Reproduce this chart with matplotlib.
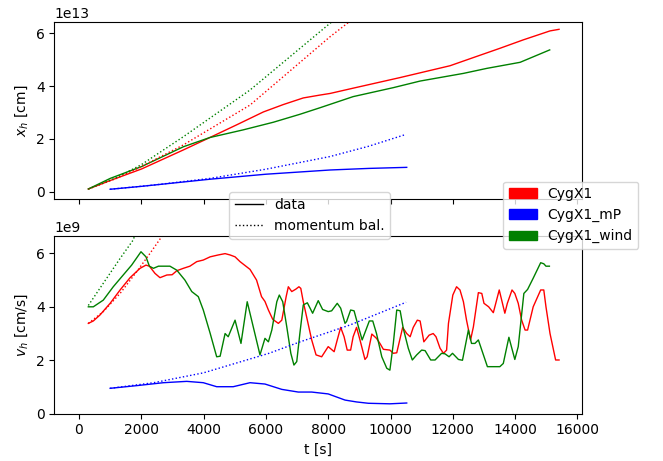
import numpy as np
import matplotlib
matplotlib.use("Agg")
import matplotlib.pyplot as plt
from matplotlib.lines import Line2D
from matplotlib.patches import Patch

# ---------------- data (x in 1e13 cm, v in 1e9 cm/s, t in s) ----------------
series = ["CygX1", "CygX1_mP", "CygX1_wind"]
colors = ["red", "blue", "green"]

# top panel: position x_h
t_x_red = [300, 1000, 2010, 3350, 4200, 5060, 5920, 6560, 7200, 7740, 8060, 8800,
           10300, 11910, 12660, 13510, 14260, 15120, 15410]
x_red = [0.10, 0.42, 0.86, 1.58, 2.05, 2.53, 3.02, 3.30, 3.55, 3.66, 3.72, 3.92,
         4.32, 4.77, 5.08, 5.43, 5.75, 6.09, 6.15]
t_x_green = [300, 1000, 2010, 3350, 4200, 5270, 6240, 7090, 7740, 8800, 10090,
             10950, 12340, 13090, 14160, 15110]
x_green = [0.10, 0.50, 0.95, 1.70, 2.05, 2.34, 2.63, 2.93, 3.18, 3.60, 3.94,
           4.19, 4.48, 4.67, 4.90, 5.37]
t_x_blue = [1000, 2000, 4200, 6000, 8060, 9300, 10520]
x_blue = [0.09, 0.20, 0.47, 0.66, 0.82, 0.88, 0.92]

t_xm_red = [300, 1200, 2000, 3350, 5490, 8060, 8800]
xm_red = [0.10, 0.50, 0.95, 1.77, 3.28, 5.87, 6.55]
t_xm_green = [300, 1200, 2000, 3350, 5490, 8060, 8300]
xm_green = [0.10, 0.53, 1.02, 2.08, 3.85, 6.38, 6.60]
t_xm_blue = [1000, 2400, 4200, 6000, 8060, 9300, 10500]
xm_blue = [0.09, 0.25, 0.50, 0.85, 1.33, 1.72, 2.17]

# bottom panel: velocity v_h
t_v_red = [300, 460, 670, 1000, 1320, 1640, 1960, 2150, 2260, 2440, 2600, 2820, 2990,
           3140, 3350, 3560, 3780, 3990, 4210, 4470, 4690, 4850, 5010, 5170, 5490,
           5700, 5860, 5970, 6080, 6220, 6400, 6510, 6650, 6720, 6830, 6960, 7060,
           7120, 7200, 7330, 7470, 7610, 7790, 8000, 8190, 8290, 8400, 8510, 8610,
           8720, 8800, 8910, 9020, 9180, 9250, 9400, 9550, 9660, 9770, 9980, 10090,
           10200, 10390, 10520, 10630, 10730, 10860, 10950, 11070, 11240, 11370,
           11460, 11590, 11700, 11800, 11860, 12000, 12120, 12230, 12340, 12440,
           12570, 12660, 12820, 12930, 13000, 13150, 13300, 13490, 13670, 13750,
           13900, 13990, 14100, 14210, 14320, 14400, 14580, 14820, 14920, 14990,
           15120, 15300, 15410]
v_red = [3.38, 3.47, 3.69, 4.13, 4.63, 5.09, 5.44, 5.56, 5.52, 5.25, 5.09, 5.19, 5.20,
         5.35, 5.44, 5.52, 5.69, 5.75, 5.87, 5.94, 5.99, 5.94, 5.87, 5.69, 5.40,
         5.00, 4.38, 4.20, 3.88, 3.53, 3.38, 3.50, 4.38, 4.75, 4.57, 4.66, 4.75,
         4.69, 4.19, 3.50, 2.76, 2.20, 2.13, 2.51, 2.32, 2.76, 3.23, 2.88, 2.38,
         2.38, 2.88, 3.23, 2.76, 2.03, 2.13, 2.98, 2.82, 2.63, 2.41, 2.38, 2.26,
         2.28, 3.23, 3.00, 2.88, 3.23, 3.50, 3.47, 2.69, 2.94, 3.00,
         2.88, 2.45, 2.26, 2.38, 3.38, 4.44, 4.75, 4.63, 4.19, 3.50,
         2.76, 3.25, 4.53, 4.50, 4.13, 4.00, 3.78, 4.63, 3.76, 4.13,
         4.63, 4.50, 4.13, 3.50, 3.13, 3.13, 4.00, 4.63, 4.63, 4.00,
         3.00, 2.01, 2.01]

t_v_green = [300, 460, 780, 1100, 1420, 1690, 1990, 2150, 2260, 2390, 2550, 2920, 3140,
             3400, 3620, 3830, 3990, 4210, 4420, 4530, 4690, 4790, 5010, 5200, 5400,
             5810, 5970, 6080, 6190, 6350, 6430, 6540, 6670, 6800, 6900, 6990, 7090,
             7200, 7330, 7500, 7680, 7820, 8000, 8110, 8290, 8400, 8540, 8590, 8720,
             8830, 8970, 9090, 9210, 9320, 9430, 9550, 9720, 9880, 9980, 10090, 10200,
             10310, 10410, 10570, 10700, 10840, 11000, 11110, 11290, 11430, 11640,
             11750, 11880, 11990, 12180, 12310, 12500, 12600, 12710, 12820, 12930,
             13110, 13510, 13620, 13800, 13990, 14100, 14280, 14400, 14580, 14820,
             14920, 14990, 15100]
v_green = [4.00, 4.00, 4.25, 4.75, 5.19, 5.56, 6.06, 5.87, 5.52, 5.44, 5.52, 5.52, 5.37,
           5.00, 4.57, 4.38, 3.88, 3.01, 2.13, 2.15, 3.00, 2.88, 3.50, 2.63, 4.19,
           2.20, 2.82, 2.69, 3.13, 4.19, 4.44, 4.19, 3.25, 2.26, 1.82, 1.95, 3.00,
           4.07, 4.15, 3.76, 4.23, 3.90, 3.82, 3.85, 4.13, 3.95, 3.38, 3.45, 3.88,
           3.85, 3.25, 2.76, 3.13, 3.47, 3.47, 3.00, 2.13, 1.70, 1.63, 2.63, 3.88,
           3.85, 3.19, 2.45, 2.01, 2.20, 2.38, 2.36, 2.01, 2.01, 2.26,
           2.24, 2.13, 2.26, 2.03, 2.00, 3.13, 2.63, 2.63, 2.76, 2.38,
           1.76, 1.76, 1.88, 2.86, 2.03, 2.51, 4.50, 4.65, 5.07, 5.65,
           5.61, 5.52, 5.52]

t_v_blue = [1000, 1850, 2710, 3460, 3990, 4420, 4950, 5490, 5970, 6510, 7040, 7470,
            8000, 8540, 8910, 9290, 9980, 10520]
v_blue = [0.95, 1.05, 1.16, 1.21, 1.16, 1.01, 1.01, 1.16, 1.11, 0.91, 0.81, 0.81,
          0.74, 0.51, 0.44, 0.39, 0.37, 0.40]

t_vm_red = [300, 780, 1320, 1850, 2280, 2580, 2700]
vm_red = [3.38, 3.82, 4.50, 5.31, 6.00, 6.50, 6.70]
t_vm_green = [300, 780, 1320, 1740, 1800]
vm_green = [4.05, 4.88, 5.81, 6.50, 6.70]
t_vm_blue = [1000, 2400, 4000, 6100, 7100, 8700, 10500]
vm_blue = [0.95, 1.16, 1.53, 2.26, 2.69, 3.32, 4.17]

XS = 1e13
VS = 1e9

# ---------------- figure ----------------
fig = plt.figure(figsize=(6.63, 4.61), dpi=100)
ax1 = fig.add_axes([0.0822, 0.5677, 0.7956, 0.3853])
ax2 = fig.add_axes([0.0822, 0.1026, 0.7956, 0.3855], sharex=ax1)

lw = 1.0
data_x = [(t_x_red, x_red), (t_x_blue, x_blue), (t_x_green, x_green)]
mom_x = [(t_xm_red, xm_red), (t_xm_blue, xm_blue), (t_xm_green, xm_green)]
data_v = [(t_v_red, v_red), (t_v_blue, v_blue), (t_v_green, v_green)]
mom_v = [(t_vm_red, vm_red), (t_vm_blue, vm_blue), (t_vm_green, vm_green)]

for c, (t, y) in zip(colors, data_x):
    ax1.plot(t, np.array(y) * XS, color=c, lw=lw)
for c, (t, y) in zip(colors, mom_x):
    ax1.plot(t, np.array(y) * XS, color=c, lw=lw, ls=':')
for c, (t, y) in zip(colors, data_v):
    ax2.plot(t, np.array(y) * VS, color=c, lw=lw)
for c, (t, y) in zip(colors, mom_v):
    ax2.plot(t, np.array(y) * VS, color=c, lw=lw, ls=':')

ax1.set_xlim(-786, 16146)
ax1.set_ylim(-0.29 * XS, 6.44 * XS)
ax2.set_ylim(0, 6.65 * VS)
ax1.set_yticks(np.array([0, 2, 4, 6]) * XS)
ax2.set_yticks(np.array([0, 2, 4, 6]) * VS)
ax2.set_xticks([0, 2000, 4000, 6000, 8000, 10000, 12000, 14000, 16000])
plt.setp(ax1.get_xticklabels(), visible=False)

ax1.set_ylabel(r"$x_h$ [cm]")
ax2.set_ylabel(r"$v_h$ [cm/s]")
ax2.set_xlabel("t [s]")

style_handles = [Line2D([], [], color="black", lw=lw, ls="-"),
                 Line2D([], [], color="black", lw=lw, ls=":")]
fig.legend(style_handles, ["data", "momentum bal."], loc="center",
           bbox_to_anchor=(0.467, 0.5325))

color_handles = [Patch(color=c) for c in colors]
fig.legend(color_handles, series, loc="center", bbox_to_anchor=(0.861, 0.533))

fig.savefig("out.png", dpi=100)
